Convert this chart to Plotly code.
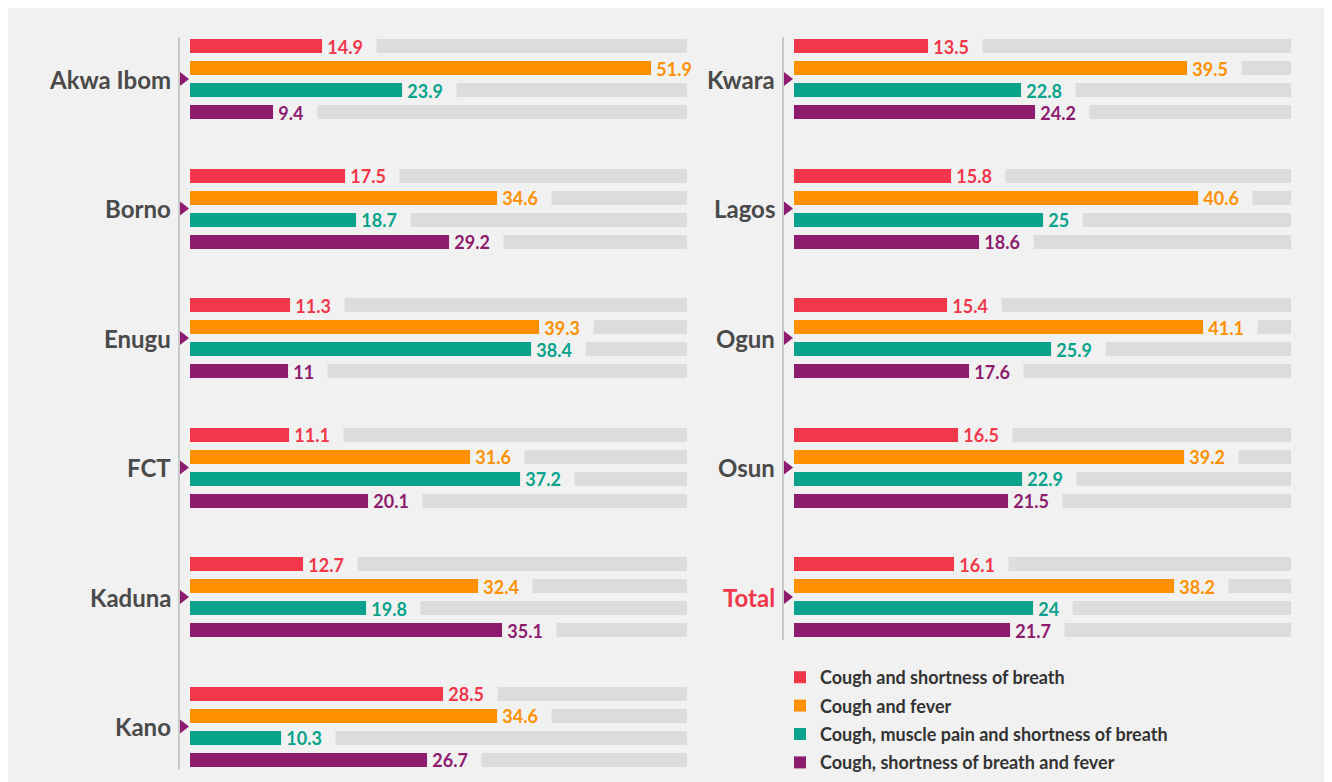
"""Symptom combinations by state - horizontal grouped bars in two panels."""

import plotly.graph_objects as go

# ---- data -------------------------------------------------------------
left_states = ["Akwa Ibom", "Borno", "Enugu", "FCT", "Kaduna", "Kano"]
right_states = ["Kwara", "Lagos", "Ogun", "Osun", "Total"]

series_names = [
    "Cough and shortness of breath",
    "Cough and fever",
    "Cough, muscle pain and shortness of breath",
    "Cough, shortness of breath and fever",
]

cough_breath_left = [14.9, 17.5, 11.3, 11.1, 12.7, 28.5]
cough_fever_left = [51.9, 34.6, 39.3, 31.6, 32.4, 34.6]
cough_muscle_left = [23.9, 18.7, 38.4, 37.2, 19.8, 10.3]
cough_breath_fever_left = [9.4, 29.2, 11, 20.1, 35.1, 26.7]

cough_breath_right = [13.5, 15.8, 15.4, 16.5, 16.1]
cough_fever_right = [39.5, 40.6, 41.1, 39.2, 38.2]
cough_muscle_right = [22.8, 25, 25.9, 22.9, 24]
cough_breath_fever_right = [24.2, 18.6, 17.6, 21.5, 21.7]

# ---- style ------------------------------------------------------------
colors = ["#f2374b", "#ff9100", "#08a38a", "#8e1c6e"]
BG = "#f1f1f1"
TRACK = "#dcdcdc"
AXIS_LINE = "#c8c8c8"
LABEL = "#4a4a4a"
FONT = "Lato"

W, H = 1332, 782
PANEL_PX = 497.0         # width of a full grey track
PAD_PX = 14.0            # room left of the bars for pointer + rule
ROW_PX = 22.0            # distance between bars inside a group
GROUP_STEP = 129.5 / ROW_PX
FIRST_PX = 38.0
BAR_W = 14.0 / ROW_PX
LEFT_MAX, RIGHT_MAX = 56, 50

panels = [
    dict(states=left_states,
         values=[cough_breath_left, cough_fever_left, cough_muscle_left, cough_breath_fever_left],
         xmax=LEFT_MAX, xa="x", ya="y", x0_px=182),
    dict(states=right_states,
         values=[cough_breath_right, cough_fever_right, cough_muscle_right, cough_breath_fever_right],
         xmax=RIGHT_MAX, xa="x2", ya="y2", x0_px=786),
]

fig = go.Figure()
annotations = []
shapes = []
xaxes = {}

for p_i, p in enumerate(panels):
    states = p["states"]
    n = len(states)
    px = p["xmax"] / PANEL_PX          # data units per pixel
    rows = [[g * GROUP_STEP + s for g in range(n)] for s in range(4)]
    all_rows = [y for r in rows for y in r]

    xaxes[p["xa"]] = dict(
        domain=[(p["x0_px"] - PAD_PX) / W, (p["x0_px"] + PANEL_PX) / W],
        range=[-PAD_PX * px, p["xmax"]], visible=False, fixedrange=True,
    )

    # grey tracks
    fig.add_trace(go.Bar(
        x=[p["xmax"]] * len(all_rows), y=all_rows, orientation="h",
        width=BAR_W, marker=dict(color=TRACK, line_width=0),
        xaxis=p["xa"], yaxis=p["ya"], showlegend=False, hoverinfo="skip",
    ))

    for s in range(4):
        vals = p["values"][s]
        fig.add_trace(go.Bar(
            x=vals, y=rows[s], orientation="h", width=BAR_W,
            name=series_names[s], legendgroup=f"g{s}",
            marker=dict(color=colors[s], line_width=0),
            xaxis=p["xa"], yaxis=p["ya"], showlegend=(p_i == 1),
        ))
        for v, y in zip(vals, rows[s]):
            annotations.append(dict(
                x=v, y=y, xref=p["xa"], yref=p["ya"],
                text="\u00a0" + f"{v:g}" + "\u00a0\u00a0\u00a0",
                showarrow=False, xanchor="left", yanchor="middle",
                bgcolor=BG, borderpad=0, height=15,
                font=dict(family=FONT, size=18, color=colors[s], weight="bold"),
            ))

    centers = [g * GROUP_STEP + 1.5 for g in range(n)]
    # vertical rule
    shapes.append(dict(
        type="line", xref=p["xa"], yref=p["ya"],
        x0=-11 * px, x1=-11 * px,
        y0=-0.4, y1=(n - 1) * GROUP_STEP + 3.45,
        line=dict(color=AXIS_LINE, width=2), layer="below",
    ))
    # purple pointers
    fig.add_trace(go.Scatter(
        x=[-7 * px] * n, y=centers, mode="markers",
        marker=dict(symbol="triangle-right", size=12, color=colors[3]),
        xaxis=p["xa"], yaxis=p["ya"], showlegend=False, hoverinfo="skip",
    ))
    for state, c in zip(states, centers):
        annotations.append(dict(
            x=0, y=c, xref=p["xa"], yref=p["ya"], text=state,
            showarrow=False, xanchor="right", yanchor="middle", xshift=-17,
            font=dict(family=FONT, size=24, weight="bold",
                      color=colors[0] if state == "Total" else LABEL),
        ))

y_top = -FIRST_PX / ROW_PX
y_bot = (H - FIRST_PX) / ROW_PX
yax = dict(range=[y_bot, y_top], visible=False, fixedrange=True)

fig.update_layout(
    width=W, height=H,
    margin=dict(l=0, r=0, t=0, b=0),
    paper_bgcolor=BG, plot_bgcolor="rgba(0,0,0,0)",
    barmode="overlay", bargap=0,
    xaxis=xaxes["x"],
    xaxis2=xaxes["x2"],
    yaxis=dict(yax, anchor="x"),
    yaxis2=dict(yax, anchor="x2"),
    annotations=annotations,
    shapes=shapes,
    showlegend=True,
    legend=dict(
        x=772 / W, y=1 - 651 / H, xanchor="left", yanchor="top",
        bgcolor="rgba(0,0,0,0)", tracegroupgap=2,
        font=dict(family=FONT, size=18, color="#333333", weight="bold"),
        itemclick=False, itemdoubleclick=False,
    ),
    font=dict(family=FONT),
)

fig.write_html("out.html")
